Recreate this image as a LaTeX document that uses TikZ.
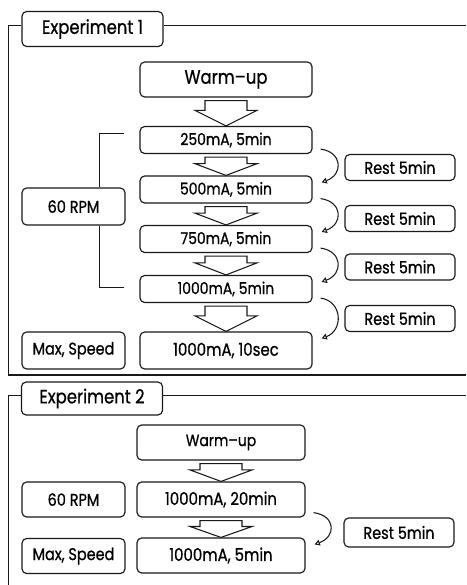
\documentclass[tikz,border=0pt]{standalone}
\usepackage{fontspec}
\setmainfont[FakeStretch=0.85,FakeBold=0.8]{Poppins}
\usetikzlibrary{arrows.meta,calc}
\definecolor{inkcolor}{RGB}{25,25,25}

\tikzset{
  framebox/.style={draw=inkcolor,line width=1pt,rounded corners=4pt,inner sep=0pt},
  titlebox/.style={framebox,minimum width=4.23cm,minimum height=1.05cm,font=\fontsize{16.5}{18}\selectfont},
  stagebox/.style={framebox,minimum width=5.16cm,minimum height=0.81cm,font=\fontsize{14}{16}\selectfont},
  sidebox/.style={framebox,minimum width=3.09cm,minimum height=1.11cm,font=\fontsize{14.5}{16}\selectfont},
  restbox/.style={framebox,minimum width=3.3cm,minimum height=0.78cm,font=\fontsize{14.5}{16}\selectfont},
  frameline/.style={draw=inkcolor,line width=0.8pt},
  flowline/.style={draw=inkcolor,fill=white,line width=0.9pt,line join=miter},
  restarrow/.style={draw=inkcolor,line width=0.9pt,-{Triangle[open,length=4.5pt,width=5pt]}}
}

% block arrow between two stages
\newcommand{\flowarrow}[2]{%
  \draw[flowline] ($(#1.south)+(-21,3)$) -- ($(#1.south)+(21,3)$)
    -- ($(#1.south)!0.45!(#2.north)+(21,0)$) -- ($(#1.south)!0.45!(#2.north)+(31,0)$)
    -- (#2.north)
    -- ($(#1.south)!0.45!(#2.north)+(-31,0)$) -- ($(#1.south)!0.45!(#2.north)+(-21,0)$) -- cycle;}

\begin{document}
\begin{tikzpicture}[x=0.03cm,y=-0.03cm]
  \useasboundingbox (0,0) rectangle (466,585);

  % Experiment 1
  \node[titlebox] (exp1) at (92.5,29) {Experiment 1};
  \coordinate (f1tl) at (8,25);
  \coordinate (f1bl) at (8,375);
  \draw[frameline] (f1tl -| exp1.east) -- (466,25);
  \draw[frameline] (f1tl -| exp1.west) -- (f1tl) -- (f1bl);
  \draw[frameline,line width=1.4pt] (f1bl) -- (466,375);

  \node[stagebox,minimum height=1.05cm,font=\fontsize{16.5}{18}\selectfont] (wu1) at (226,79.5) {Warm--up};
  \node[stagebox] (b250) at (226,140) {250mA, 5min};
  \node[stagebox] (b500) at (226,189.5) {500mA, 5min};
  \node[stagebox] (b750) at (226,239) {750mA, 5min};
  \node[stagebox] (b1000) at (226,289) {1000mA, 5min};
  \node[stagebox,minimum height=1.11cm,font=\fontsize{15}{16}\selectfont] (b10s) at (226,350.5) {1000mA, 10sec};

  \node[sidebox] (rpm1) at (73.5,206.5) {60 RPM};
  \node[sidebox] (max1) at (73.5,350.5) {Max, Speed};

  % bracket for the 60 RPM stages
  \coordinate (brx) at (99,0);
  \coordinate (brtop) at (124,133);
  \coordinate (brbot) at (124,287);
  \draw[frameline] (brtop) -| (rpm1.north -| brx);
  \draw[frameline] (brbot) -| (rpm1.south -| brx);

  \node[restbox] (rest1) at (400,167.5) {Rest 5min};
  \node[restbox] (rest2) at (400,218.5) {Rest 5min};
  \node[restbox] (rest3) at (400,267) {Rest 5min};
  \node[restbox] (rest4) at (400,318.5) {Rest 5min};

  \foreach \a/\b in {wu1/b250,b250/b500,b500/b750,b750/b1000,b1000/b10s}
    \flowarrow{\a}{\b};

  % Experiment 2
  \node[titlebox,minimum height=0.99cm] (exp2) at (92,398.5) {Experiment 2};
  \coordinate (f2tl) at (8,395);
  \coordinate (f2bl) at (8,585);
  \draw[frameline] (f2tl -| exp2.east) -- (466,395);
  \draw[frameline] (f2tl -| exp2.west) -- (f2tl) -- (f2bl);

  \node[stagebox,minimum width=5.04cm,minimum height=1.05cm] (wu2) at (221,442.5) {Warm--up};
  \node[stagebox,minimum width=5.04cm,minimum height=1.05cm,font=\fontsize{15}{16}\selectfont] (c20) at (221,499.5) {1000mA, 20min};
  \node[stagebox,minimum width=5.04cm,minimum height=1.05cm,font=\fontsize{15}{16}\selectfont] (c5) at (221,555.5) {1000mA, 5min};

  \node[sidebox,minimum height=1.05cm] (rpm2) at (73.5,499.5) {60 RPM};
  \node[sidebox,minimum height=1.05cm] (max2) at (73.5,556) {Max, Speed};

  \node[restbox,minimum height=0.87cm] (rest5) at (399,532.5) {Rest 5min};

  \foreach \a/\b in {wu2/c20,c20/c5}
    \flowarrow{\a}{\b};

  % rest arrows
  \foreach \a/\b in {b250/b500,b500/b750,b750/b1000,b1000/b10s,c20/c5}
    \draw[restarrow] ([shift={(8,-5)}]\a.south east) .. controls +(22,3) and +(22,-8) .. ([shift={(9,7)}]\b.north east);
\end{tikzpicture}
\end{document}
